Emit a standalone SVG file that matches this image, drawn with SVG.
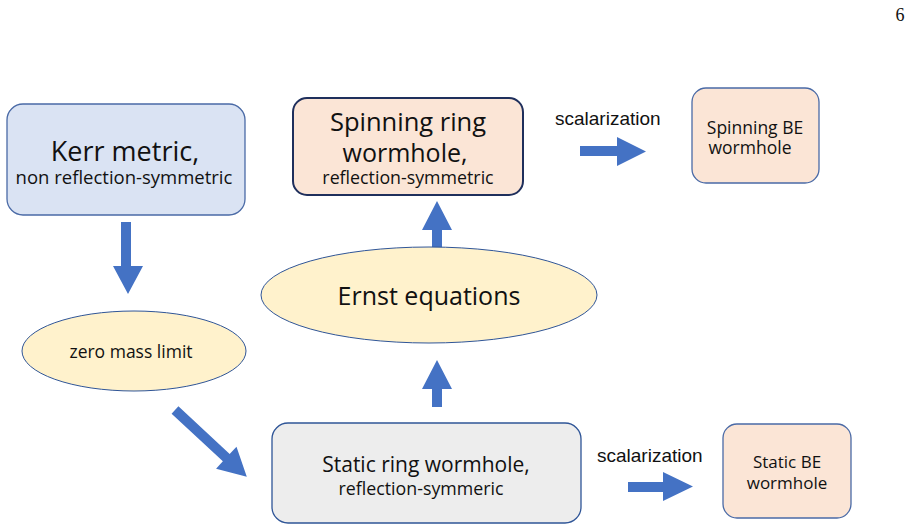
<svg xmlns="http://www.w3.org/2000/svg" width="913" height="531" viewBox="0 0 913 531">
<style>
.t{font-family:"Open Sans","Noto Sans",sans-serif;fill:#111;text-anchor:middle}
.s{font-family:"Liberation Sans",Arial,sans-serif;fill:#111;font-size:19px}
.arr{fill:#4472c4}
.box{stroke-width:1.3}
</style>
<rect width="913" height="531" fill="#fff"/>
<text x="900" y="21" font-family="'Liberation Serif','DejaVu Serif',serif" font-size="18" text-anchor="middle" fill="#111">6</text>

<g id="connectors">
  <polygon class="arr" points="121,222 131,222 131,266 143,266 128,294 113,266 121,266"/>
  <polygon class="arr" transform="translate(175,410) rotate(42.9)" points="0,-5 70,-5 70,-15 98,0 70,15 70,5 0,5"/>
  <polygon class="arr" points="432,407 442,407 442,389 452,389 437,360 422,389 432,389"/>
  <polygon class="arr" points="432,248 442,248 442,230 452,230 437,201 422,230 432,230"/>
  <polygon class="arr" points="580,146 617,146 617,137 646,151.5 617,166 617,156 580,156"/>
  <polygon class="arr" points="628,482 663,482 663,472 693,486.5 663,501 663,492 628,492"/>
  <text class="s" x="555" y="125">scalarization</text>
  <text class="s" x="597" y="462">scalarization</text>
</g>

<g id="kerr">
  <rect class="box" x="7" y="104" width="238" height="111" rx="16" fill="#dae3f3" stroke="#4a6aa6"/>
  <text class="t" x="125" y="161" font-size="27">Kerr metric,</text>
  <text class="t" x="124" y="184" font-size="18.5">non reflection-symmetric</text>
</g>

<g id="spinning-ring">
  <rect x="293" y="98" width="230" height="97" rx="14" fill="#fbe5d6" stroke="#1f2f5c" stroke-width="2"/>
  <text class="t" x="408" y="131" font-size="25.5">Spinning ring</text>
  <text class="t" x="405" y="162" font-size="25">wormhole,</text>
  <text class="t" x="408" y="184" font-size="17.8">reflection-symmetric</text>
</g>

<g id="spinning-be">
  <rect class="box" x="692" y="88" width="127" height="95" rx="14" fill="#fbe5d6" stroke="#4a6aa6"/>
  <text class="t" x="755" y="134" font-size="17.5">Spinning BE</text>
  <text class="t" x="750" y="154" font-size="17.5">wormhole</text>
</g>

<g id="ernst">
  <ellipse cx="429" cy="295" rx="168" ry="48" fill="#fff2cc" stroke="#2f5597" stroke-width="1"/>
  <text class="t" x="429" y="305" font-size="25">Ernst equations</text>
</g>

<g id="zero-mass">
  <ellipse cx="134" cy="351" rx="112" ry="40" fill="#fff2cc" stroke="#2f5597" stroke-width="1"/>
  <text class="t" x="131" y="358" font-size="17.5">zero mass limit</text>
</g>

<g id="static-ring">
  <rect class="box" x="272" y="423" width="309" height="100" rx="16" fill="#ededed" stroke="#2f5597" stroke-width="1.5"/>
  <text class="t" x="426" y="472" font-size="21">Static ring wormhole,</text>
  <text class="t" x="421" y="495" font-size="17.8">reflection-symmeric</text>
</g>

<g id="static-be">
  <rect class="box" x="723" y="424" width="128" height="94" rx="14" fill="#fbe5d6" stroke="#4a6aa6"/>
  <text class="t" x="787" y="468" font-size="17">Static BE</text>
  <text class="t" x="787" y="489" font-size="17">wormhole</text>
</g>
</svg>
